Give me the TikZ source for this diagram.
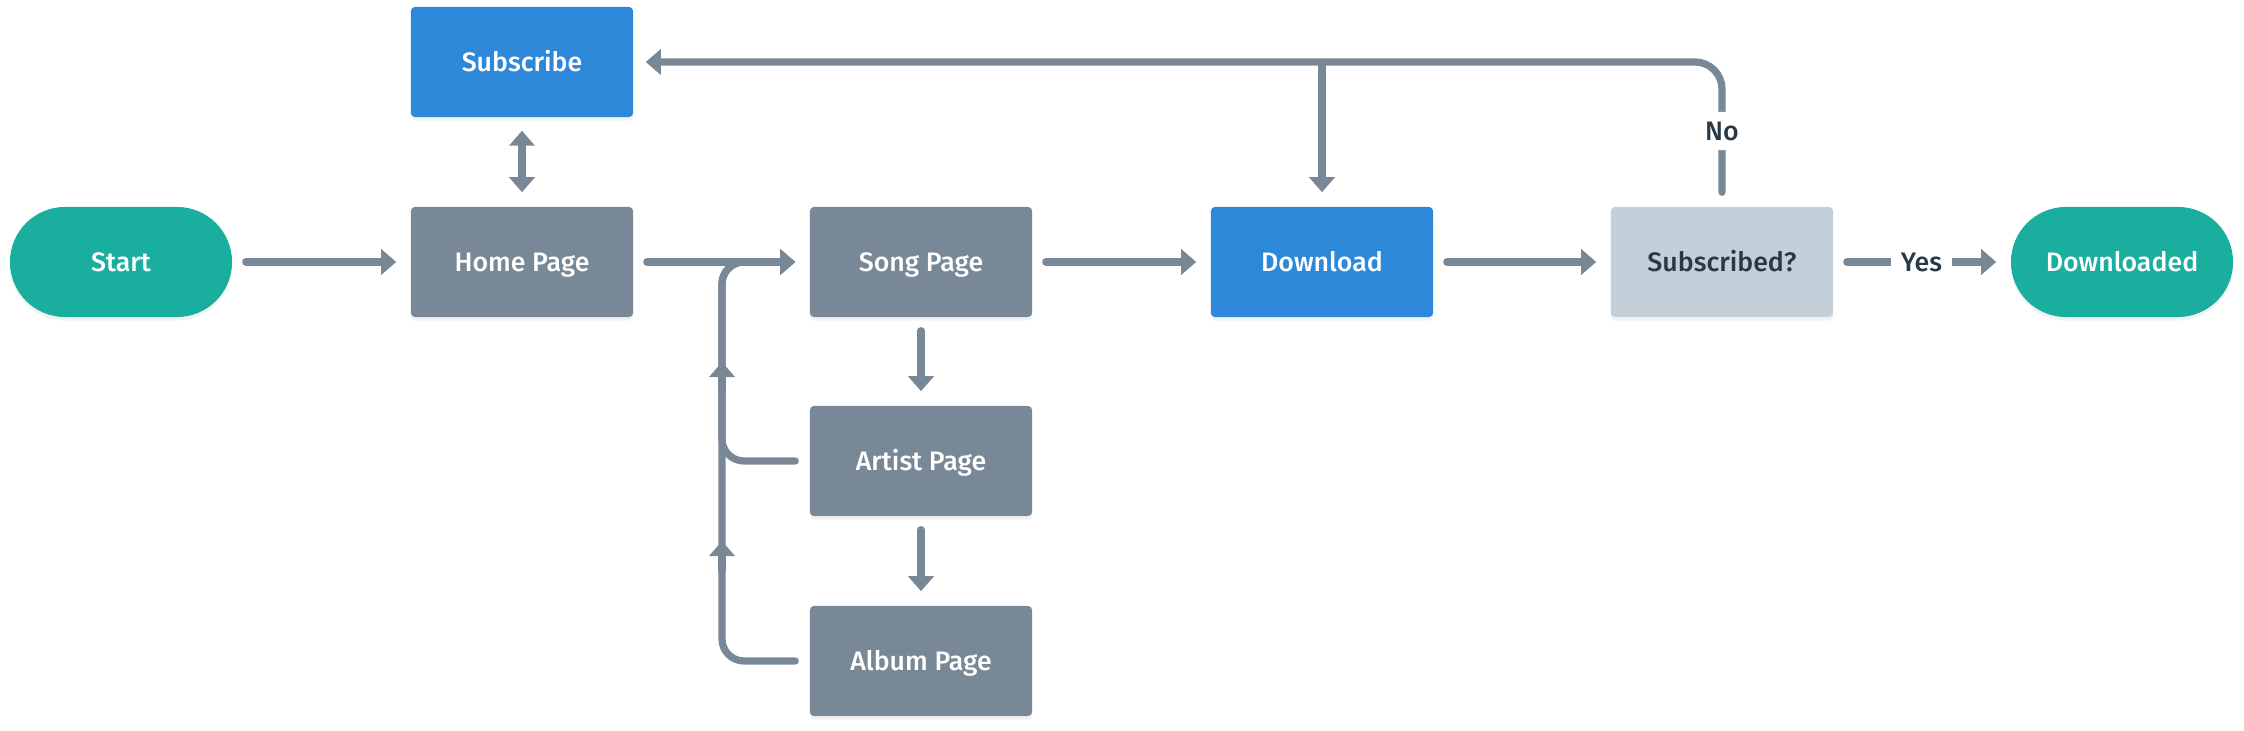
\documentclass[tikz,border=0pt]{standalone}
\usepackage{fontspec}
\setmainfont{Fira Sans}[UprightFont=* Medium]
\usetikzlibrary{arrows.meta,shadows}
\definecolor{cteal}{HTML}{1AAE9F}
\definecolor{cgray}{HTML}{788896}
\definecolor{cblue}{HTML}{2D88DA}
\definecolor{clight}{HTML}{C3CFD9}
\definecolor{cdark}{HTML}{293845}
\definecolor{cline}{HTML}{788896}
\newcommand{\fs}{\fontsize{7.6pt}{9pt}\selectfont}
\begin{document}
\begin{tikzpicture}[x=0.01cm,y=-0.01cm,
  box/.style={rectangle, rounded corners=0.04cm, minimum width=2.22cm, minimum height=1.1cm,
    inner sep=0pt, text=white, font=\fs, text height=5.25pt, text depth=0pt,
    drop shadow={opacity=0.10, shadow xshift=0cm, shadow yshift=-0.035cm}},
  graybox/.style={box, fill=cgray},
  bluebox/.style={box, fill=cblue},
  pill/.style={box, fill=cteal, rounded corners=0.55cm},
  lightbox/.style={box, fill=clight, text=cdark},
  conn/.style={draw=cline, line width=0.072cm, line cap=round, -{Triangle[length=0.15cm,width=0.25cm]}},
  lbl/.style={fill=white, text=cdark, font=\fs, inner sep=0.1cm, text height=5.25pt, text depth=0pt}
]
\useasboundingbox (0,0) rectangle (2244,731);
\node[pill]      (start)      at (121,262)  {Start};
\node[graybox]   (home)       at (522,262)  {Home Page};
\node[bluebox]   (subscribe)  at (522,62)   {Subscribe};
\node[graybox]   (song)       at (921,262)  {Song Page};
\node[graybox]   (artist)     at (921,461)  {Artist Page};
\node[graybox]   (album)      at (921,661)  {Album Page};
\node[bluebox]   (download)   at (1322,262) {Download};
\node[lightbox]  (sd)         at (1722,262) {Subscribed?};
\node[pill]      (downloaded) at (2122,262) {Downloaded};

\draw[conn] ([xshift=0.13cm]start.east) -- ([xshift=-0.14cm]home.west);
\draw[conn] ([xshift=0.13cm]home.east) -- ([xshift=-0.14cm]song.west);
\draw[conn] ([xshift=0.13cm]song.east) -- ([xshift=-0.14cm]download.west);
\draw[conn] ([xshift=0.13cm]download.east) -- ([xshift=-0.14cm]sd.west);
\draw[conn] ([xshift=0.13cm]sd.east) -- node[lbl] {Yes} ([xshift=-0.14cm]downloaded.west);
\draw[conn, {Triangle[length=0.15cm,width=0.25cm]}-{Triangle[length=0.15cm,width=0.25cm]}]
  ([yshift=-0.13cm]subscribe.south) -- ([yshift=0.14cm]home.north);
\draw[conn] ([yshift=-0.13cm]song.south) -- ([yshift=0.14cm]artist.north);
\draw[conn] ([yshift=-0.13cm]artist.south) -- ([yshift=0.14cm]album.north);

\draw[conn, rounded corners=0.22cm] ([xshift=-0.14cm]artist.west) -- (722,461) -- (722,262) -- ([xshift=-0.14cm]song.west);
\draw[conn, rounded corners=0.22cm] ([xshift=-0.14cm]album.west) -- (722,661) -- (722,262) -- ([xshift=-0.14cm]song.west);
\draw[conn] (722,390) -- (722,362);
\draw[conn] (722,570) -- (722,541);

\draw[conn, rounded corners=0.27cm] ([yshift=0.14cm]sd.north) -- node[lbl, pos=0.47] {No} (1722,62) -- ([xshift=0.12cm]subscribe.east);
\coordinate (j) at (download.north |- subscribe.east);
\draw[conn] (j) -- ([yshift=0.14cm]download.north);
\end{tikzpicture}
\end{document}
